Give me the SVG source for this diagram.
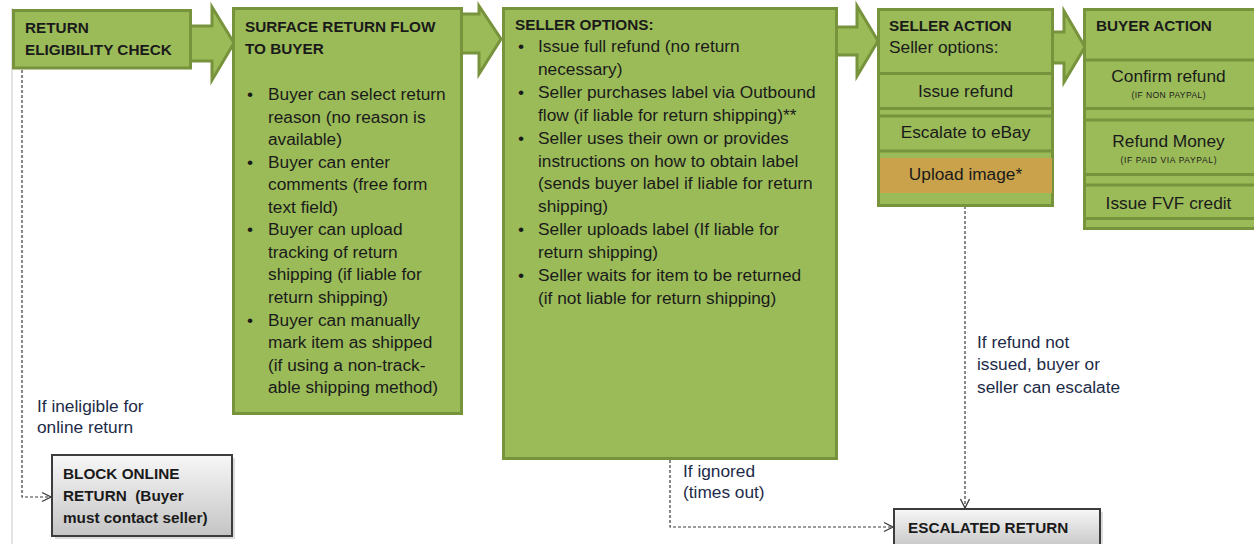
<svg xmlns="http://www.w3.org/2000/svg" width="1254" height="544" viewBox="0 0 1254 544">
<style>
.box{fill:#9bbb59;stroke:#77933c;stroke-width:3}
.arrow{fill:#9bbb59;stroke:#77933c;stroke-width:3;stroke-linejoin:miter}
.sep{fill:#77933c}
.h{font-family:"Liberation Sans",Arial,sans-serif;font-weight:bold;font-size:15.3px;fill:#1a1a1a}
.t{font-family:"Liberation Sans",Arial,sans-serif;font-size:17.3px;fill:#1a1a1a}
.c{text-anchor:middle}
.s{font-family:"Liberation Sans",Arial,sans-serif;font-size:8.5px;fill:#1a1a1a;text-anchor:middle}
.lbl{font-family:"Liberation Sans",Arial,sans-serif;font-size:17.3px;fill:#1d2b48}
.gray{fill:url(#gg);stroke:#3c3c3c;stroke-width:2}
.conn{fill:none;stroke:#3a3a3a;stroke-width:1.2;stroke-dasharray:3 2}
</style>
<defs>
<linearGradient id="gg" x1="0" y1="0" x2="0" y2="1">
<stop offset="0" stop-color="#f7f7f7"/>
<stop offset="1" stop-color="#c4c4c4"/>
</linearGradient>
<marker id="open" viewBox="0 0 12 12" refX="11" refY="6" markerWidth="12" markerHeight="12" markerUnits="userSpaceOnUse" orient="auto">
<path d="M2,1.5 L11,6 L2,10.5" fill="none" stroke="#3a3a3a" stroke-width="1.3"/>
</marker>
</defs>
<rect width="1254" height="544" fill="#ffffff"/>
<line x1="12" y1="8" x2="12" y2="544" stroke="#c8c8c8" stroke-width="1"/>

<g id="arrows">
<polygon class="arrow" points="188,26 212,26 212,7 234,43 212,80 212,61 188,61"/>
<polygon class="arrow" points="460,14 479,14 479,6 501,39 479,74 479,53 460,53"/>
<polygon class="arrow" points="835,27 857,27 857,6 878,41 857,76 857,55 835,55"/>
<polygon class="arrow" points="1051,32 1064,32 1064,11 1085,47 1064,82 1064,63 1051,63"/>
</g>

<g id="connectors">
<path class="conn" d="M22,70 V497 H51" marker-end="url(#open)"/>
<path class="conn" d="M670,460 V527 H893" marker-end="url(#open)"/>
<path class="conn" d="M965,206 V508" marker-end="url(#open)"/>
</g>

<g id="eligibility">
<rect class="box" x="13.5" y="10.5" width="177" height="57.5"/>
<text class="h" x="25" y="33">RETURN</text>
<text class="h" x="25" y="55">ELIGIBILITY CHECK</text>
</g>

<g id="surface">
<rect class="box" x="233.5" y="8.5" width="228" height="405"/>
<text class="h" x="245" y="32">SURFACE RETURN FLOW</text>
<text class="h" x="245" y="54">TO BUYER</text>
<g class="t">
<text x="247" y="100">•</text>
<text x="268" y="100">Buyer can select return</text>
<text x="268" y="122.5">reason (no reason is</text>
<text x="268" y="145">available)</text>
<text x="247" y="167.7">•</text>
<text x="268" y="167.7">Buyer can enter</text>
<text x="268" y="190.2">comments (free form</text>
<text x="268" y="212.8">text field)</text>
<text x="247" y="235.3">•</text>
<text x="268" y="235.3">Buyer can upload</text>
<text x="268" y="257.8">tracking of return</text>
<text x="268" y="280.4">shipping (if liable for</text>
<text x="268" y="303">return shipping)</text>
<text x="247" y="325.5">•</text>
<text x="268" y="325.5">Buyer can manually</text>
<text x="268" y="348">mark item as shipped</text>
<text x="268" y="370.6">(if using a non-track-</text>
<text x="268" y="393">able shipping method)</text>
</g>
</g>

<g id="seller-options">
<rect class="box" x="503.5" y="8.5" width="333" height="450"/>
<text class="h" x="515" y="30">SELLER OPTIONS:</text>
<g class="t">
<text x="518" y="52">•</text>
<text x="538" y="52">Issue full refund (no return</text>
<text x="538" y="74.9">necessary)</text>
<text x="518" y="97.8">•</text>
<text x="538" y="97.8">Seller purchases label via Outbound</text>
<text x="538" y="120.7">flow (if liable for return shipping)**</text>
<text x="518" y="143.6">•</text>
<text x="538" y="143.6">Seller uses their own or provides</text>
<text x="538" y="166.5">instructions on how to obtain label</text>
<text x="538" y="189.4">(sends buyer label if liable for return</text>
<text x="538" y="212.3">shipping)</text>
<text x="518" y="235.2">•</text>
<text x="538" y="235.2">Seller uploads label (If liable for</text>
<text x="538" y="258.1">return shipping)</text>
<text x="518" y="281">•</text>
<text x="538" y="281">Seller waits for item to be returned</text>
<text x="538" y="303.9">(if not liable for return shipping)</text>
</g>
</g>

<g id="seller-action">
<rect class="box" x="878.5" y="9.5" width="174" height="196"/>
<rect class="sep" x="878" y="72" width="175" height="3"/>
<rect class="sep" x="878" y="107" width="175" height="3"/>
<rect class="sep" x="878" y="114.5" width="175" height="3"/>
<rect class="sep" x="878" y="149.5" width="175" height="3"/>
<rect x="880" y="158" width="172" height="35" fill="#c9a24b"/>
<text class="h" x="889" y="31">SELLER ACTION</text>
<text class="t" x="889" y="53">Seller options:</text>
<text class="t c" x="965.5" y="97">Issue refund</text>
<text class="t c" x="965.5" y="138">Escalate to eBay</text>
<text class="t c" x="965.5" y="180">Upload image*</text>
</g>

<g id="buyer-action">
<rect class="box" x="1084.5" y="9.5" width="180" height="219"/>
<rect class="sep" x="1084" y="58.5" width="180" height="3"/>
<rect class="sep" x="1084" y="107" width="180" height="3"/>
<rect class="sep" x="1084" y="118.5" width="180" height="3"/>
<rect class="sep" x="1084" y="173" width="180" height="3"/>
<rect class="sep" x="1084" y="183.5" width="180" height="3"/>
<rect class="sep" x="1084" y="217" width="180" height="3"/>
<text class="h" x="1096" y="31">BUYER ACTION</text>
<text class="t c" x="1168.5" y="82">Confirm refund</text>
<text class="s" x="1168.5" y="98" textLength="74" lengthAdjust="spacing">(IF NON PAYPAL)</text>
<text class="t c" x="1168.5" y="147">Refund Money</text>
<text class="s" x="1168.5" y="162.5" textLength="96" lengthAdjust="spacing">(IF PAID VIA PAYPAL)</text>
<text class="t c" x="1168.5" y="209">Issue FVF credit</text>
</g>

<g id="block-online">
<rect x="55" y="458" width="180" height="81" fill="#9a9a9a" opacity="0.35"/>
<rect class="gray" x="52" y="455" width="180" height="81"/>
<text class="h" x="63" y="479">BLOCK ONLINE</text>
<text class="h" x="63" y="501" xml:space="preserve">RETURN  (Buyer</text>
<text class="h" x="63" y="523">must contact seller)</text>
</g>

<g id="escalated">
<rect x="897" y="512" width="206" height="40" fill="#9a9a9a" opacity="0.35"/>
<rect class="gray" x="894" y="509" width="206" height="40"/>
<text class="h" x="908" y="533">ESCALATED RETURN</text>
</g>

<g id="labels">
<text class="lbl" x="37" y="412">If ineligible for</text>
<text class="lbl" x="37" y="433">online return</text>
<text class="lbl" x="683" y="477">If ignored</text>
<text class="lbl" x="683" y="498">(times out)</text>
<text class="lbl" x="977" y="348">If refund not</text>
<text class="lbl" x="977" y="370">issued, buyer or</text>
<text class="lbl" x="977" y="393">seller can escalate</text>
</g>
</svg>
